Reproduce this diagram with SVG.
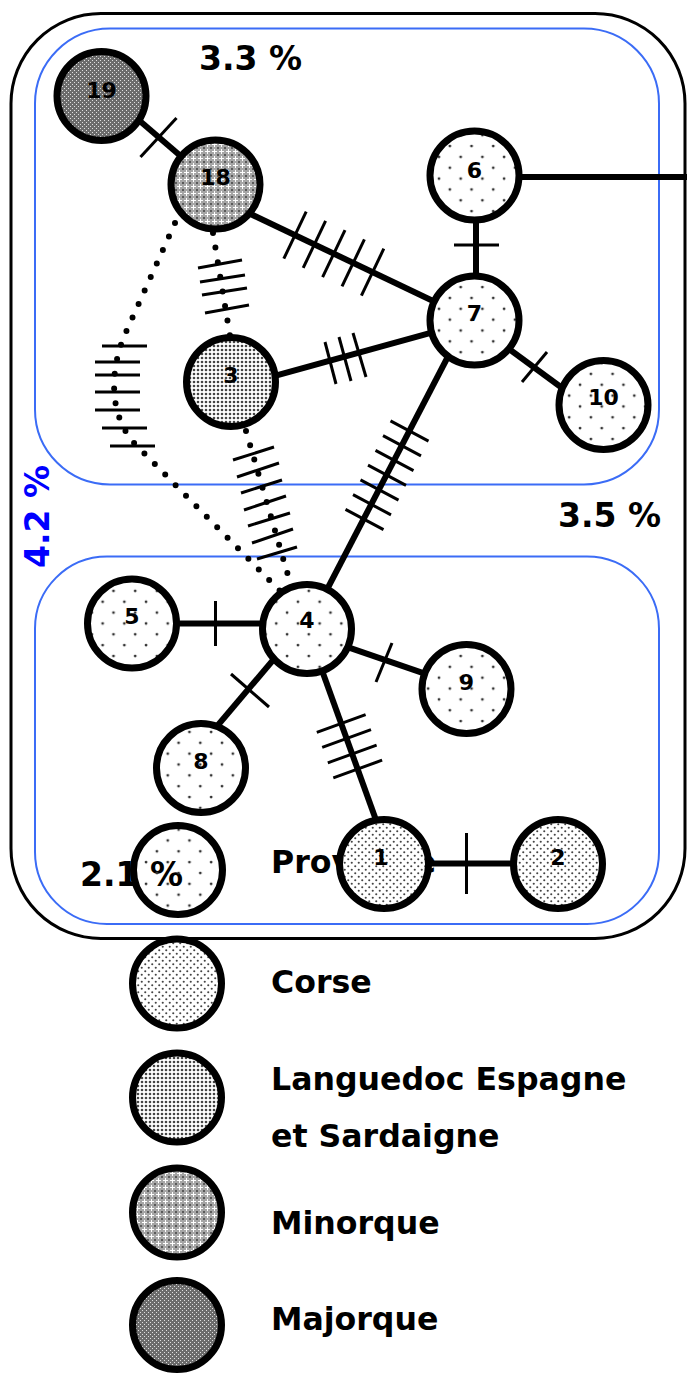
<svg xmlns="http://www.w3.org/2000/svg" width="687" height="1374" viewBox="0 0 687 1374">
<style>
.frame{fill:none;stroke:#000;stroke-width:3}
.blue{fill:none;stroke:#3b6cf6;stroke-width:2}
.pct{font-family:"DejaVu Sans","Liberation Sans",sans-serif;font-weight:bold;font-size:33px;fill:#000}
.leg{font-family:"DejaVu Sans","Liberation Sans",sans-serif;font-weight:bold;font-size:31.6px;fill:#000}
.lbl{font-family:"DejaVu Sans","Liberation Sans",sans-serif;font-weight:bold;font-size:22px;fill:#000;text-anchor:middle}
.nd{stroke:#000;stroke-width:7}
.ln{stroke:#000;stroke-width:6;fill:none}
.tk{stroke:#000;stroke-width:3;fill:none}
.dot{stroke:#000;stroke-width:6;fill:none;stroke-linecap:round;stroke-dasharray:0 14.8}
</style>
<defs>
<pattern id="pProv" width="21.7" height="21.7" patternUnits="userSpaceOnUse"><rect width="21.7" height="21.7" fill="#fff"/><circle cx="5" cy="5" r="1.4" fill="#333"/><circle cx="15.85" cy="15.85" r="1.4" fill="#333"/></pattern>
<pattern id="pProvT" width="21.7" height="21.7" patternUnits="userSpaceOnUse"><circle cx="5" cy="5" r="1.4" fill="#333"/><circle cx="15.85" cy="15.85" r="1.4" fill="#333"/></pattern>
<pattern id="pCorse" width="7" height="7" patternUnits="userSpaceOnUse"><rect width="7" height="7" fill="#fff"/><circle cx="1.75" cy="1.75" r="1.05" fill="#444"/><circle cx="5.25" cy="5.25" r="1.05" fill="#444"/></pattern>
<pattern id="pLang" width="4" height="4" patternUnits="userSpaceOnUse"><rect width="4" height="4" fill="#fff"/><circle cx="2" cy="2" r="1.3" fill="#444"/></pattern>
<pattern id="pMin" width="7" height="7" patternUnits="userSpaceOnUse"><rect width="7" height="7" fill="#a6a6a6"/><rect x="0" y="0" width="2" height="2" fill="#5a5a5a"/><rect x="4" y="2" width="1" height="5" fill="#fff"/><rect x="2" y="4" width="5" height="1" fill="#fff"/></pattern>
<pattern id="pMaj" width="4" height="4" patternUnits="userSpaceOnUse"><rect width="4" height="4" fill="#6c6c6c"/><rect x="0" y="0" width="1" height="1" fill="#e0e0e0"/><rect x="2" y="2" width="1" height="1" fill="#e0e0e0"/></pattern>
</defs>
<rect width="687" height="1374" fill="#fff"/>
<g id="frames">
<rect class="frame" x="11" y="13.5" width="674" height="925" rx="90" ry="90"/>
<rect class="blue" x="35" y="28.5" width="624" height="456" rx="75" ry="75"/>
<rect class="blue" x="35" y="556.5" width="624" height="367.5" rx="72" ry="72"/>
</g>
<g id="percent-labels">
<text class="pct" x="199" y="70">3.3 %</text>
<text class="pct" x="558" y="527">3.5 %</text>
<text class="pct" transform="translate(49,568) rotate(-90)" style="fill:#0000ff">4.2 %</text>
</g>
<g id="legend">
<text class="pct" x="80" y="886">2.1 %</text>
<circle cx="178" cy="870" r="44.5" class="nd" fill="url(#pProvT)"/>
<text class="leg" x="271" y="873">Provence</text>
<circle cx="177" cy="983.5" r="44.5" class="nd" fill="url(#pCorse)"/>
<text class="leg" x="271" y="993">Corse</text>
<circle cx="177" cy="1097.5" r="44.5" class="nd" fill="url(#pLang)"/>
<text class="leg" x="271" y="1090">Languedoc Espagne</text>
<text class="leg" x="271" y="1147">et Sardaigne</text>
<circle cx="177" cy="1212.5" r="44.5" class="nd" fill="url(#pMin)"/>
<text class="leg" x="271" y="1234">Minorque</text>
<circle cx="177" cy="1325" r="44.5" class="nd" fill="url(#pMaj)"/>
<text class="leg" x="271" y="1330">Majorque</text>
</g>
<g id="connectors">
<line class="ln" x1="101.5" y1="88" x2="215.5" y2="186"/>
<line class="tk" x1="140.5" y1="157" x2="176.5" y2="118"/>
<line class="ln" x1="215" y1="197" x2="475" y2="321"/>
<line class="tk" x1="283.8" y1="258.7" x2="306.2" y2="211.7"/>
<line class="tk" x1="303.2" y1="267.9" x2="325.6" y2="220.9"/>
<line class="tk" x1="322.6" y1="277.2" x2="345" y2="230.2"/>
<line class="tk" x1="342" y1="286.4" x2="364.4" y2="239.4"/>
<line class="tk" x1="361.4" y1="295.7" x2="383.8" y2="248.7"/>
<line class="ln" x1="476" y1="175" x2="476" y2="320"/>
<line class="tk" x1="454" y1="245" x2="499" y2="245"/>
<line class="ln" x1="474" y1="177" x2="690" y2="177"/>
<line class="ln" x1="475" y1="324" x2="603" y2="418"/>
<line class="tk" x1="522" y1="382" x2="547" y2="352"/>
<line class="ln" x1="231" y1="388" x2="475" y2="320.6"/>
<line class="tk" x1="325" y1="342" x2="336" y2="384"/>
<line class="tk" x1="339" y1="337" x2="351" y2="381"/>
<line class="tk" x1="353" y1="333" x2="366" y2="377"/>
<line class="ln" x1="468" y1="318" x2="306.5" y2="629"/>
<line class="tk" x1="390.5" y1="420.9" x2="428.5" y2="441.1"/>
<line class="tk" x1="383" y1="435.65" x2="421" y2="455.85"/>
<line class="tk" x1="375.5" y1="450.4" x2="413.5" y2="470.6"/>
<line class="tk" x1="368" y1="465.15" x2="406" y2="485.35"/>
<line class="tk" x1="360.5" y1="479.9" x2="398.5" y2="500.1"/>
<line class="tk" x1="353" y1="494.65" x2="391" y2="514.85"/>
<line class="tk" x1="345.5" y1="509.4" x2="383.5" y2="529.6"/>
<path class="dot" d="M213,233 L230,336"/>
<line class="tk" x1="198" y1="268" x2="242" y2="260"/>
<line class="tk" x1="200" y1="282" x2="245" y2="275"/>
<line class="tk" x1="202" y1="295" x2="247" y2="288"/>
<line class="tk" x1="205" y1="313" x2="249" y2="305"/>
<path class="dot" d="M175,223 L126,332 C112,363 105,412 136,445 L287,598"/>
<line class="tk" x1="102" y1="346" x2="147" y2="346"/>
<line class="tk" x1="95" y1="362" x2="140" y2="362"/>
<line class="tk" x1="95" y1="375" x2="140" y2="375"/>
<line class="tk" x1="95" y1="392" x2="140" y2="392"/>
<line class="tk" x1="95" y1="410" x2="140" y2="410"/>
<line class="tk" x1="102" y1="428" x2="147" y2="428"/>
<line class="tk" x1="110" y1="446" x2="155" y2="446"/>
<path class="dot" d="M246,431 L292,589"/>
<line class="tk" x1="233" y1="460" x2="274" y2="447"/>
<line class="tk" x1="237" y1="477" x2="279" y2="463"/>
<line class="tk" x1="241" y1="493" x2="282" y2="480"/>
<line class="tk" x1="244" y1="510" x2="286" y2="496"/>
<line class="tk" x1="248" y1="526" x2="290" y2="513"/>
<line class="tk" x1="252" y1="543" x2="293" y2="529"/>
<line class="tk" x1="257" y1="559" x2="297" y2="547"/>
<line class="ln" x1="132" y1="623.5" x2="307" y2="623.5"/>
<line class="tk" x1="215.5" y1="601" x2="215.5" y2="646"/>
<line class="ln" x1="290" y1="640" x2="210" y2="734.5"/>
<line class="tk" x1="231" y1="674" x2="269" y2="707"/>
<line class="ln" x1="320" y1="637.7" x2="440" y2="678.8"/>
<line class="tk" x1="376" y1="682" x2="392" y2="643"/>
<line class="ln" x1="315" y1="651" x2="385" y2="845"/>
<line class="tk" x1="316.8" y1="732.3" x2="365.6" y2="714.7"/>
<line class="tk" x1="322.2" y1="747.3" x2="371" y2="729.7"/>
<line class="tk" x1="327.8" y1="762.8" x2="376.6" y2="745.2"/>
<line class="tk" x1="333.3" y1="777.8" x2="382.1" y2="760.2"/>
<line class="ln" x1="384" y1="863.5" x2="558" y2="863.5"/>
<line class="tk" x1="466.5" y1="833" x2="466.5" y2="894"/>
</g>
<g id="node-19"><circle cx="101.5" cy="96" r="44.5" class="nd" fill="url(#pMaj)"/><text class="lbl" x="101.5" y="98">19</text></g>
<g id="node-18"><circle cx="215.5" cy="184.5" r="44.5" class="nd" fill="url(#pMin)"/><text class="lbl" x="215.5" y="185">18</text></g>
<g id="node-6"><circle cx="474.5" cy="175.5" r="44.5" class="nd" fill="url(#pProv)"/><text class="lbl" x="474.5" y="178">6</text></g>
<g id="node-7"><circle cx="474.5" cy="320.5" r="44.5" class="nd" fill="url(#pProv)"/><text class="lbl" x="474.5" y="321">7</text></g>
<g id="node-10"><circle cx="603.5" cy="405" r="44.5" class="nd" fill="url(#pProv)"/><text class="lbl" x="603.5" y="405">10</text></g>
<g id="node-3"><circle cx="231" cy="382" r="44.5" class="nd" fill="url(#pLang)"/><text class="lbl" x="231" y="383">3</text></g>
<g id="node-4"><circle cx="307" cy="629" r="44.5" class="nd" fill="url(#pProv)"/><text class="lbl" x="307" y="628">4</text></g>
<g id="node-5"><circle cx="132" cy="623.5" r="44.5" class="nd" fill="url(#pProv)"/><text class="lbl" x="132" y="624">5</text></g>
<g id="node-8"><circle cx="201" cy="768" r="44.5" class="nd" fill="url(#pProv)"/><text class="lbl" x="201" y="769">8</text></g>
<g id="node-9"><circle cx="466.5" cy="689" r="44.5" class="nd" fill="url(#pProv)"/><text class="lbl" x="466.5" y="690">9</text></g>
<g id="node-1"><circle cx="384" cy="864" r="44.5" class="nd" fill="url(#pCorse)"/><text class="lbl" x="381" y="865">1</text></g>
<g id="node-2"><circle cx="558" cy="864" r="44.5" class="nd" fill="url(#pCorse)"/><text class="lbl" x="558" y="865">2</text></g>
</svg>
